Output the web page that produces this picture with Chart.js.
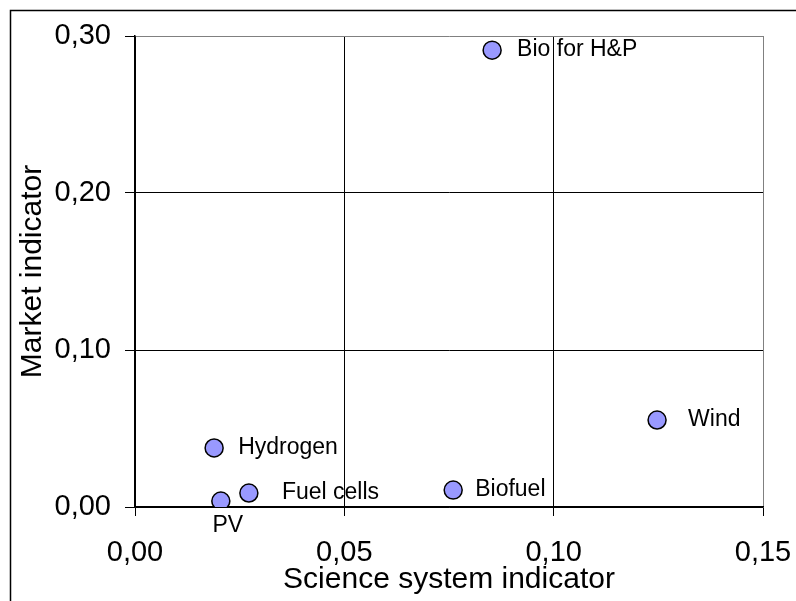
<!DOCTYPE html>
<html>
<head>
<meta charset="utf-8">
<script src="https://cdn.jsdelivr.net/npm/chart.js@4.4.0/dist/chart.umd.min.js"></script>
<style>
  html, body { margin: 0; padding: 0; background: #fff; }
  #wrap { width: 796px; height: 601px; position: relative; }
</style>
</head>
<body>
<div id="wrap"><canvas id="chart"></canvas></div>
<script>
// Data
const names = ['Bio for H&P', 'Wind', 'Hydrogen', 'Fuel cells', 'PV', 'Biofuel'];
const science = [0.0853, 0.1247, 0.0189, 0.0272, 0.0205, 0.0760];
const market = [0.291, 0.0554, 0.0376, 0.0089, 0.0038, 0.0108];
const xTicks = [0, 0.05, 0.10, 0.15];
const yTicks = [0, 0.10, 0.20, 0.30];

// where each label sits relative to its point
const labelSide = ['right', 'right', 'right', 'right', 'below', 'right'];
const labelGap = [25, 31, 24, 33, 25, 22];

const font = "'Liberation Sans', Arial, sans-serif";
const fmt = v => v.toFixed(2).replace('.', ',');

const pointLabels = {
    id: 'pointLabels',
    afterDatasetsDraw(chart) {
        const ctx = chart.ctx;
        const meta = chart.getDatasetMeta(0);
        ctx.save();
        ctx.font = '23px ' + font;
        ctx.fillStyle = '#000';
        meta.data.forEach((pt, i) => {
            ctx.textBaseline = 'middle';
            if (labelSide[i] === 'below') {
                ctx.textAlign = 'center';
                ctx.fillText(names[i], pt.x + 7, pt.y + labelGap[i]);
            } else {
                ctx.textAlign = 'left';
                ctx.fillText(names[i], pt.x + labelGap[i], pt.y);
            }
        });
        ctx.restore();
    }
};

const frame = {
    id: 'frame',
    beforeDraw(chart) {
        const ctx = chart.ctx;
        ctx.save();
        ctx.fillStyle = '#fff';
        ctx.fillRect(0, 0, chart.width, chart.height);
        ctx.strokeStyle = '#000';
        ctx.lineWidth = 1.5;
        ctx.strokeRect(10.5, 10.5, chart.width + 20, chart.height + 20);
        ctx.restore();
    }
};

new Chart(document.getElementById('chart'), {
    type: 'scatter',
    data: {
        datasets: [{
            data: science.map((x, i) => ({ x: x, y: market[i] })),
            backgroundColor: '#9999FF',
            borderColor: '#000',
            borderWidth: 1.5,
            pointRadius: 9,
            pointHoverRadius: 9
        }]
    },
    plugins: [frame, pointLabels],
    options: {
        responsive: true,
        maintainAspectRatio: false,
        animation: false,
        layout: { padding: { left: 0, right: 33, top: 36, bottom: 0 } },
        plugins: {
            legend: { display: false },
            tooltip: { enabled: false }
        },
        scales: {
            x: {
                type: 'linear',
                min: xTicks[0],
                max: xTicks[xTicks.length - 1],
                afterBuildTicks: s => { s.ticks = xTicks.map(v => ({ value: v })); },
                afterFit: s => {
                    s.height = 94;
                    s.paddingLeft = 0;
                    s.paddingRight = 0;
                },
                grid: {
                    color: c => c.tick && c.tick.value === 0.15 ? '#808080' : '#000',
                    tickColor: '#000',
                    tickLength: 9,
                    lineWidth: 1
                },
                border: { color: '#000', width: 1.5 },
                ticks: {
                    color: '#000',
                    font: { family: font, size: 29 },
                    padding: 20,
                    maxRotation: 0,
                    callback: v => fmt(v)
                },
                title: {
                    display: true,
                    text: 'Science system indicator',
                    color: '#000',
                    font: { family: font, size: 30 },
                    padding: { top: 0, bottom: 3 }
                }
            },
            y: {
                type: 'linear',
                min: yTicks[0],
                max: yTicks[yTicks.length - 1],
                afterBuildTicks: s => { s.ticks = yTicks.map(v => ({ value: v })); },
                afterFit: s => {
                    s.width = 135;
                    s.paddingTop = 0;
                    s.paddingBottom = 0;
                },
                grid: {
                    color: c => c.tick && c.tick.value === 0.3 ? '#808080' : '#000',
                    tickColor: '#000',
                    tickLength: 10,
                    lineWidth: 1
                },
                border: { color: '#000', width: 1.5 },
                ticks: {
                    color: '#000',
                    font: { family: font, size: 29 },
                    padding: 14,
                    callback: v => fmt(v)
                },
                title: {
                    display: true,
                    text: 'Market indicator',
                    color: '#000',
                    font: { family: font, size: 30 },
                    padding: { top: 15, bottom: 0 }
                }
            }
        }
    }
});
</script>
</body>
</html>
